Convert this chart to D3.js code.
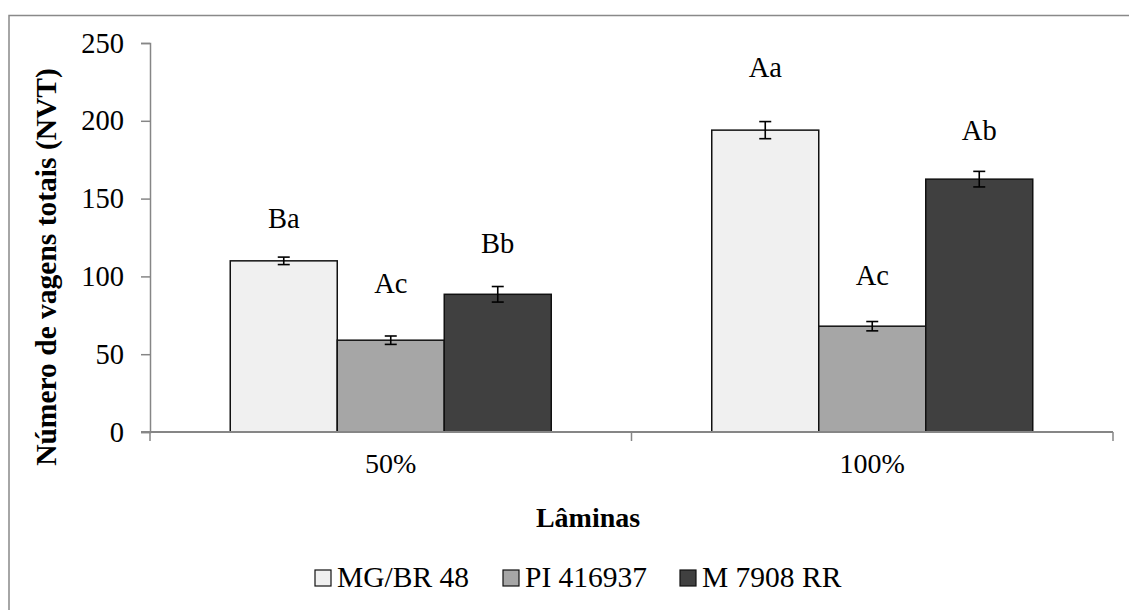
<!DOCTYPE html>
<html>
<head>
<meta charset="utf-8">
<script src="https://cdn.jsdelivr.net/npm/d3@7"></script>
<style>
  html, body { margin: 0; padding: 0; background: #fff; }
  svg { display: block; }
  text { font-family: "Liberation Serif", "Times New Roman", serif; fill: #000; }
</style>
</head>
<body>
<svg id="chart" width="1129" height="610"></svg>
<script>
// Irrigation levels (x categories)
const laminas = ["50%", "100%"];
// Cultivars (series)
const cultivares = ["MG/BR 48", "PI 416937", "M 7908 RR"];
// Mean number of pods per cultivar, one entry per irrigation level
const mgbr48 = [110, 194];
const pi416937 = [59, 68];
const m7908rr = [88.5, 162.5];
// Error bar half-widths
const errMgbr48 = [2.4, 5.5];
const errPi416937 = [2.7, 3];
const errM7908rr = [5, 5];
// Mean-comparison letters
const letrasMgbr48 = ["Ba", "Aa"];
const letrasPi416937 = ["Ac", "Ac"];
const letrasM7908rr = ["Bb", "Ab"];
// Height (in axis units) where each letter is centred
const alturaMgbr48 = [137.5, 234.5];
const alturaPi416937 = [96, 101];
const alturaM7908rr = [121.5, 194];
// Y axis ticks
const yTicks = [0, 50, 100, 150, 200, 250];

const series = [
  { name: cultivares[0], values: mgbr48, err: errMgbr48, letters: letrasMgbr48, lh: alturaMgbr48, color: "#f0f0f0" },
  { name: cultivares[1], values: pi416937, err: errPi416937, letters: letrasPi416937, lh: alturaPi416937, color: "#a6a6a6" },
  { name: cultivares[2], values: m7908rr, err: errM7908rr, letters: letrasM7908rr, lh: alturaM7908rr, color: "#404040" }
];

const svg = d3.select("#chart");
const axisColor = "#868686";

// outer chart frame
svg.append("rect")
  .attr("x", 9).attr("y", 15.5)
  .attr("width", 1140).attr("height", 620)
  .attr("fill", "none").attr("stroke", "#898989").attr("stroke-width", 1.5);

const plot = { left: 150, right: 1113, top: 43, bottom: 432 };

const x0 = d3.scaleBand().domain(laminas).range([plot.left, plot.right]).padding(0);
const barW = x0.bandwidth() / 4.5;
const x1 = d3.scaleBand().domain(cultivares)
  .range([x0.bandwidth() / 2 - 1.5 * barW, x0.bandwidth() / 2 + 1.5 * barW]).padding(0);
const y = d3.scaleLinear().domain([0, 250]).range([plot.bottom, plot.top]);

// Y axis
const yAxis = svg.append("g")
  .attr("transform", `translate(${plot.left},0)`)
  .call(d3.axisLeft(y).tickValues(yTicks).tickSize(9).tickPadding(17));
yAxis.select(".domain").attr("stroke", axisColor).attr("stroke-width", 1.5);
yAxis.selectAll(".tick line").attr("stroke", axisColor).attr("stroke-width", 1.5);
yAxis.selectAll(".tick text")
  .style("font-family", "Liberation Serif, serif").style("font-size", "28.5px").attr("fill", "#000");

// bars
const groups = svg.selectAll("g.grupo")
  .data(laminas)
  .join("g").attr("class", "grupo")
  .attr("transform", d => `translate(${x0(d)},0)`);

series.forEach(s => {
  groups.append("rect")
    .attr("x", (d, i) => x1(s.name))
    .attr("y", (d, i) => y(s.values[i]))
    .attr("width", x1.bandwidth())
    .attr("height", (d, i) => y(0) - y(s.values[i]))
    .attr("fill", s.color)
    .attr("stroke", "#111").attr("stroke-width", 1.5);
});

// X axis (drawn over bar bottoms)
const xAxisG = svg.append("g").attr("transform", `translate(0,${plot.bottom})`);
xAxisG.append("line")
  .attr("x1", plot.left - 9).attr("x2", plot.right)
  .attr("stroke", axisColor).attr("stroke-width", 2);
const xTickPos = [plot.left, ...laminas.slice(1).map(d => x0(d)), plot.right];
xAxisG.selectAll("line.tk").data(xTickPos).join("line").attr("class", "tk")
  .attr("x1", d => d).attr("x2", d => d).attr("y1", 0).attr("y2", 9)
  .attr("stroke", axisColor).attr("stroke-width", 1.5);
xAxisG.selectAll("text").data(laminas).join("text")
  .attr("x", d => x0(d) + x0.bandwidth() / 2)
  .attr("y", 41)
  .attr("text-anchor", "middle")
  .style("font-size", "28px")
  .text(d => d);

// error bars and letters
series.forEach(s => {
  groups.each(function(d, i) {
    const g = d3.select(this);
    const cx = x1(s.name) + x1.bandwidth() / 2;
    const hi = y(s.values[i] + s.err[i]);
    const lo = y(s.values[i] - s.err[i]);
    const eb = g.append("g").attr("stroke", "#000").attr("stroke-width", 1.6);
    eb.append("line").attr("x1", cx).attr("x2", cx).attr("y1", hi).attr("y2", lo);
    eb.append("line").attr("x1", cx - 6).attr("x2", cx + 6).attr("y1", hi).attr("y2", hi);
    eb.append("line").attr("x1", cx - 6).attr("x2", cx + 6).attr("y1", lo).attr("y2", lo);
    g.append("text")
      .attr("x", cx).attr("y", y(s.lh[i]))
      .attr("dy", "0.35em")
      .attr("text-anchor", "middle")
      .style("font-size", "28.5px")
      .text(s.letters[i]);
  });
});

// axis titles
svg.append("text")
  .attr("transform", "translate(56,267) rotate(-90)")
  .attr("text-anchor", "middle")
  .style("font-size", "29.5px").style("font-weight", "bold")
  .text("Número de vagens totais (NVT)");
svg.append("text")
  .attr("x", 588).attr("y", 527)
  .attr("text-anchor", "middle")
  .style("font-size", "28px").style("font-weight", "bold")
  .text("Lâminas");

// legend
const legendX = [315, 503, 680];
const legend = svg.selectAll("g.leg").data(series).join("g").attr("class", "leg")
  .attr("transform", (d, i) => `translate(${legendX[i]},570)`);
legend.append("rect")
  .attr("width", 16).attr("height", 16)
  .attr("fill", d => d.color).attr("stroke", "#111").attr("stroke-width", 1.2);
legend.append("text")
  .attr("x", 22).attr("y", 17)
  .style("font-size", "29.5px")
  .text(d => d.name);
</script>
</body>
</html>
